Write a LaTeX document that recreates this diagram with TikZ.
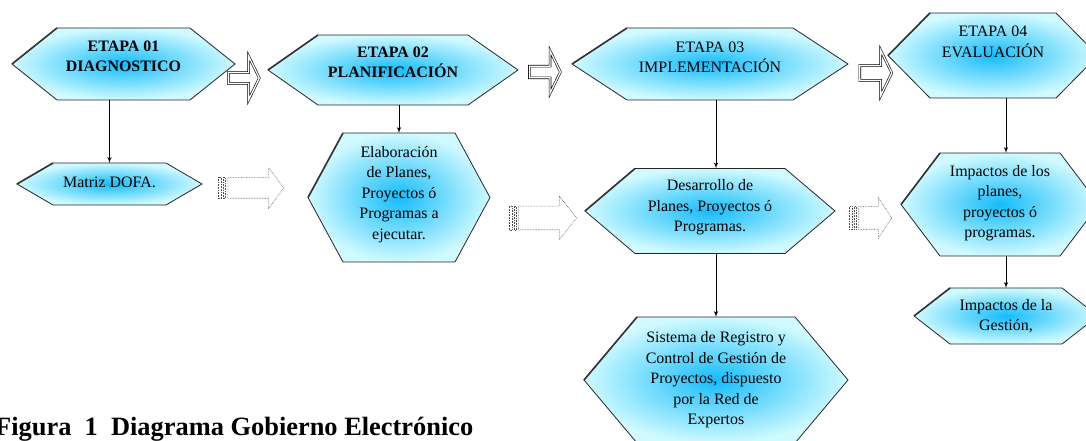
\documentclass[tikz,border=0pt]{standalone}
\usepackage{fontspec}
\setmainfont{Liberation Serif}
\usepackage{tikz}
\usetikzlibrary{shapes,arrows,calc}

\definecolor{hexin}{RGB}{20,188,250}
\definecolor{hexout}{RGB}{208,250,255}
\newcommand{\boxfont}{\fontsize{16}{20.5}\selectfont}
% hexagon drawn over the box of node #1, points inset by #2
\newcommand{\hexa}[2]{%
 \shadedraw[hexshade] (#1.west) -- ([xshift=#2]#1.north west) -- ([xshift=-#2]#1.north east)
  -- (#1.east) -- ([xshift=-#2]#1.south east) -- ([xshift=#2]#1.south west) -- cycle;
 \draw[hexedge] (#1.west) -- ([xshift=#2]#1.north west);}

\begin{document}
\begin{tikzpicture}[>=latex',line join=miter,
 hexbox/.style={rectangle,inner sep=0pt,outer sep=0pt},
 hexshade/.style={draw=black!85,line width=0.8bp,inner color=hexin,outer color=hexout},
 hexedge/.style={draw=black!80,line width=1.6bp},
 hextext/.style={align=center,font=\boxfont,inner sep=0pt},
 link/.style={->,line width=1bp},
 bigarrow/.style={single arrow,draw,double,double distance=1.3bp,line width=0.6bp,fill=white,
  inner xsep=0pt,single arrow tip angle=128},
 stripearrow/.style={single arrow,draw=black!70,densely dotted,line width=0.6bp,inner xsep=0pt},
 stripe/.style={draw=black!70,densely dotted,line width=0.6bp}]
\useasboundingbox (0,0) rectangle (1086bp,441bp);
\clip (0,0) rectangle (1086bp,441bp);

% stages
\node[hexbox,minimum width=223bp,minimum height=72bp] (e1) at (123.5bp,377bp) {};
\hexa{e1}{45bp}
\node[hextext,font=\boxfont\bfseries] (e1t) at ([yshift=7.5bp]e1.center) {ETAPA 01\\DIAGNOSTICO};
\node[hexbox,minimum width=250bp,minimum height=70bp] (e2) at (393bp,371bp) {};
\hexa{e2}{50bp}
\node[hextext,font=\boxfont\bfseries] (e2t) at ([yshift=7.5bp]e2.center) {ETAPA 02\\PLANIFICACIÓN};
\node[hexbox,minimum width=276bp,minimum height=72bp] (e3) at (710bp,377bp) {};
\hexa{e3}{55bp}
\node[hextext] (e3t) at ([yshift=7bp]e3.center) {ETAPA 03\\IMPLEMENTACIÓN};
\node[hexbox,minimum width=210bp,minimum height=85bp] (e4) at (993bp,385.5bp) {};
\hexa{e4}{42bp}
\node[hextext] (e4t) at ([yshift=13.5bp]e4.center) {ETAPA 04\\EVALUACIÓN};

% second row
\node[hexbox,minimum width=185bp,minimum height=42bp] (m) at (109.5bp,257bp) {};
\hexa{m}{36bp}
\node[hextext] (mt) at ([yshift=1.5bp]m.center) {Matriz DOFA.};
\node[hexbox,minimum width=182bp,minimum height=129bp] (el) at (399bp,243.5bp) {};
\hexa{el}{35bp}
\node[hextext] (elt) at ([yshift=3bp]el.center) {Elaboración\\de Planes,\\Proyectos ó\\Programas a\\ejecutar.};
\node[hexbox,minimum width=250bp,minimum height=85bp] (de) at (710bp,230bp) {};
\hexa{de}{50bp}
\node[hextext] (det) at ([yshift=3.5bp]de.center) {Desarrollo de\\Planes, Proyectos ó\\Programas.};
\node[hexbox,minimum width=198bp,minimum height=103bp] (ip) at (1000bp,236.5bp) {};
\hexa{ip}{39bp}
\node[hextext] (ipt) at ([yshift=1.5bp]ip.center) {Impactos de los\\planes,\\proyectos ó\\programas.};

% third row
\node[hexbox,minimum width=184bp,minimum height=56bp] (ig) at (1006bp,125bp) {};
\hexa{ig}{36bp}
\node[hextext] (igt) at (ig.center) {Impactos de la\\Gestión,};
\node[hexbox,minimum width=264bp,minimum height=126bp] (si) at (716bp,61bp) {};
\hexa{si}{53bp}
\node[hextext] (sit) at (si.center) {Sistema de Registro y\\Control de Gestión de\\Proyectos, dispuesto\\por la Red de\\Expertos};

% links
\draw[link] (e1.south -| m.north) -- (m.north);
\draw[link] (e2.south -| el.north) -- (el.north);
\draw[link] (e3.south -| si.north) -- (de.north -| si.north);
\draw[link] (de.south -| si.north) -- (si.north);
\draw[link] (e4.south -| ig.north) -- (ip.north -| ig.north);
\draw[link] (ip.south -| ig.north) -- (ig.north);

% block arrows between stages
\node[bigarrow,minimum height=31bp,inner ysep=5bp,single arrow head extend=16.5bp] (b1) at (242.5bp,363bp) {};
\node[bigarrow,minimum height=31bp,inner ysep=5.5bp,single arrow head extend=15.5bp] (b2) at (543.5bp,369bp) {};
\node[bigarrow,minimum height=32bp,inner ysep=7bp,single arrow head extend=15.5bp] (b3) at (874bp,368bp) {};

% striped arrows
\node[stripearrow,minimum height=56bp,inner ysep=10bp,single arrow head extend=10bp,single arrow tip angle=106] (s1) at (252bp,253bp) {};
\node[stripearrow,minimum height=58bp,inner ysep=11.5bp,single arrow head extend=10bp,single arrow tip angle=103] (s2) at (543bp,223bp) {};
\node[stripearrow,minimum height=33bp,inner ysep=11bp,single arrow head extend=9bp,single arrow tip angle=113] (s3) at (871.5bp,223bp) {};
\foreach \a in {s1,s2,s3}{
 \draw[stripe] ([xshift=-9bp]\a.before tail) rectangle ([xshift=-6.5bp]\a.after tail);
 \draw[stripe] ([xshift=-4.5bp]\a.before tail) rectangle ([xshift=-2.5bp]\a.after tail);
}

\node[anchor=base west,inner sep=0pt,font=\fontsize{26.5}{30}\selectfont\bfseries] (cap) at (-5bp,6bp)
 {Figura\ \ 1\ \ Diagrama Gobierno Electrónico};
\end{tikzpicture}
\end{document}
